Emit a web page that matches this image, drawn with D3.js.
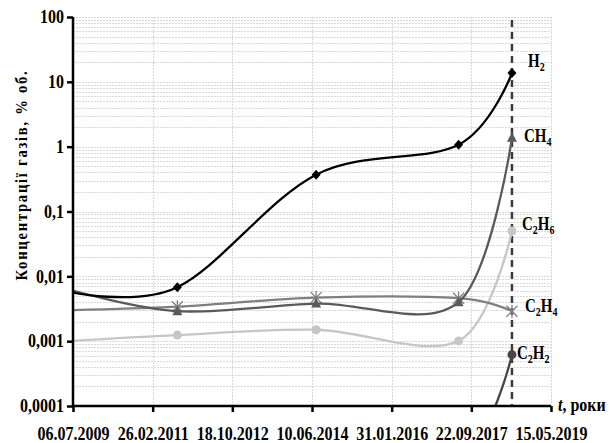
<!DOCTYPE html>
<html>
<head>
<meta charset="utf-8">
<script src="https://cdn.jsdelivr.net/npm/d3@7"></script>
<style>
  html, body { margin: 0; padding: 0; background: #fff; }
  svg { display: block; }
  text { font-family: "Liberation Serif", "Times New Roman", serif; font-weight: bold; fill: #000; }
</style>
</head>
<body>
<svg id="chart" width="610" height="443"></svg>
<script>
// Gas concentrations (% vol.) in transformer oil over time
const sampleDates = ["01.06.2009", "31.08.2011", "11.07.2014", "18.06.2017", "25.07.2018"];
const h2   = [0.0058, 0.0068, 0.37,   1.07,    13.7];
const ch4  = [0.0063, 0.0029, 0.0038, 0.0040,  1.37];
const c2h4 = [0.0030, 0.0034, 0.0047, 0.0046,  0.0029];
const c2h6 = [0.0010, 0.00124, 0.0015, 0.00101, 0.050];
const c2h2 = [0.000015, 0.000015, 0.000015, 0.000015, 0.00062];

const xTickLabels = ["06.07.2009", "26.02.2011", "18.10.2012", "10.06.2014", "31.01.2016", "22.09.2017", "15.05.2019"];
const yTickValues = [0.0001, 0.001, 0.01, 0.1, 1, 10, 100];
const yTickLabels = ["0,0001", "0,001", "0,01", "0,1", "1", "10", "100"];
const markerDate = "25.07.2018";

const parse = d3.utcParse("%d.%m.%Y");
const svg = d3.select("#chart");

const pLeft = 73, pRight = 551, pTop = 17, pBottom = 406;
const stretch = 1.2; // tall narrow lettering

const x = d3.scaleUtc()
  .domain([parse(xTickLabels[0]), parse(xTickLabels[xTickLabels.length - 1])])
  .range([pLeft, pRight]);
const y = d3.scaleLog().domain([0.0001, 100]).range([pBottom, pTop]);

// grid
const grid = svg.append("g");
const minor = [];
for (let e = -4; e < 2; e++) for (let m = 1; m <= 9; m++) minor.push(m * Math.pow(10, e));
minor.push(100);
grid.selectAll("line.h").data(minor).join("line")
  .attr("x1", pLeft).attr("x2", pRight)
  .attr("y1", d => Math.round(y(d)) + 0.5).attr("y2", d => Math.round(y(d)) + 0.5)
  .attr("stroke", "#d9d9d9").attr("stroke-width", 1).attr("stroke-dasharray", "2,1");
grid.selectAll("line.v").data(xTickLabels.slice(1)).join("line")
  .attr("x1", d => Math.round(x(parse(d))) + 0.5).attr("x2", d => Math.round(x(parse(d))) + 0.5)
  .attr("y1", pTop).attr("y2", pBottom)
  .attr("stroke", "#d9d9d9").attr("stroke-width", 1).attr("stroke-dasharray", "2,1");

// dashed marker line
svg.append("line")
  .attr("x1", x(parse(markerDate))).attr("x2", x(parse(markerDate)))
  .attr("y1", pTop + 3).attr("y2", pBottom)
  .attr("stroke", "#3a3a3a").attr("stroke-width", 2.5).attr("stroke-dasharray", "7,5");

// clip
svg.append("clipPath").attr("id", "plot")
  .append("rect").attr("x", pLeft).attr("y", pTop - 10).attr("width", pRight - pLeft + 20).attr("height", pBottom - pTop + 10);

const series = [
  { name: "C2H6", values: c2h6, color: "#c6c6c6", marker: "circle" },
  { name: "C2H4", values: c2h4, color: "#7f7f7f", marker: "star" },
  { name: "CH4",  values: ch4,  color: "#5a5a5a", marker: "triangle" },
  { name: "C2H2", values: c2h2, color: "#474747", marker: "circle" },
  { name: "H2",   values: h2,   color: "#000000", marker: "diamond" }
];

const line = d3.line()
  .x(d => x(d.date)).y(d => y(d.v))
  .curve(d3.curveCardinal.tension(0));

const plot = svg.append("g").attr("clip-path", "url(#plot)");
series.forEach(s => {
  const pts = s.values.map((v, i) => ({ date: parse(sampleDates[i]), v }));
  plot.append("path").datum(pts)
    .attr("d", line).attr("fill", "none")
    .attr("stroke", s.color).attr("stroke-width", 2.3);
  const g = plot.append("g");
  pts.forEach(p => {
    const cx = x(p.date), cy = y(p.v);
    if (s.marker === "circle") {
      g.append("circle").attr("cx", cx).attr("cy", cy).attr("r", 4.5).attr("fill", s.color);
    } else if (s.marker === "diamond") {
      g.append("path").attr("d", `M${cx},${cy - 5}L${cx + 4.5},${cy}L${cx},${cy + 5}L${cx - 4.5},${cy}Z`).attr("fill", s.color);
    } else if (s.marker === "triangle") {
      g.append("path").attr("d", `M${cx},${cy - 5.5}L${cx + 5},${cy + 4}L${cx - 5},${cy + 4}Z`).attr("fill", s.color);
    } else if (s.marker === "star") {
      const r = 5.5;
      g.append("path")
        .attr("d", `M${cx - r},${cy - r}L${cx + r},${cy + r}M${cx - r},${cy + r}L${cx + r},${cy - r}M${cx},${cy - r - 1}L${cx},${cy + r + 1}`)
        .attr("stroke", s.color).attr("stroke-width", 1.3).attr("fill", "none");
    }
  });
});

// axes
const yAxis = svg.append("g").attr("transform", `translate(${pLeft},0)`)
  .call(d3.axisLeft(y).tickValues(yTickValues).tickSize(6).tickPadding(4)
    .tickFormat((d, i) => yTickLabels[i]));
const xAxis = svg.append("g").attr("transform", `translate(0,${pBottom})`)
  .call(d3.axisBottom(x).tickValues(xTickLabels.map(parse)).tickSize(6)
    .tickFormat((d, i) => xTickLabels[i]));
[yAxis, xAxis].forEach(a => {
  a.select(".domain").attr("stroke", "#000").attr("stroke-width", 2.5);
  a.selectAll(".tick line").attr("stroke", "#000").attr("stroke-width", 2.5);
  a.selectAll(".tick text").attr("font-family", "Liberation Serif").attr("font-weight", "bold")
    .attr("font-size", 16).attr("fill", "#000");
});
yAxis.select(".domain").attr("d", `M0,${pBottom}V${pTop}`);
xAxis.select(".domain").attr("d", `M${pLeft},0H${pRight}`);
yAxis.selectAll(".tick text").attr("x", -9).attr("dy", "0.3em")
  .attr("transform", `scale(1,${stretch})`);
xAxis.selectAll(".tick text").attr("y", 0).attr("dy", 0)
  .attr("transform", `translate(0,34) scale(1,${stretch})`);

// axis titles
svg.append("text")
  .attr("transform", "translate(27,175) rotate(-90)")
  .attr("text-anchor", "middle").attr("font-size", 17).attr("letter-spacing", 2)
  .attr("textLength", 211).attr("lengthAdjust", "spacingAndGlyphs")
  .text("Концентрації газів, % об.");
const xt = svg.append("text").attr("transform", `translate(558,411) scale(1,${stretch})`).attr("font-size", 16);
xt.append("tspan").attr("font-style", "italic").text("t");
xt.append("tspan").text(", роки");

// series labels
const labels = [
  { base: "H", sub: "2", rest: "", x: 528, y: 67 },
  { base: "CH", sub: "4", rest: "", x: 524, y: 142 },
  { base: "C", sub: "2", rest: "H", sub2: "6", x: 522, y: 230 },
  { base: "C", sub: "2", rest: "H", sub2: "4", x: 525, y: 312 },
  { base: "C", sub: "2", rest: "H", sub2: "2", x: 517, y: 359 }
];
labels.forEach(l => {
  const t = svg.append("text").attr("transform", `translate(${l.x},${l.y}) scale(1,${stretch})`).attr("font-size", 15);
  t.append("tspan").text(l.base);
  t.append("tspan").attr("font-size", 10).attr("dy", 3).text(l.sub);
  if (l.rest) {
    t.append("tspan").attr("dy", -3).text(l.rest);
    t.append("tspan").attr("font-size", 10).attr("dy", 3).text(l.sub2);
  }
});
</script>
</body>
</html>
